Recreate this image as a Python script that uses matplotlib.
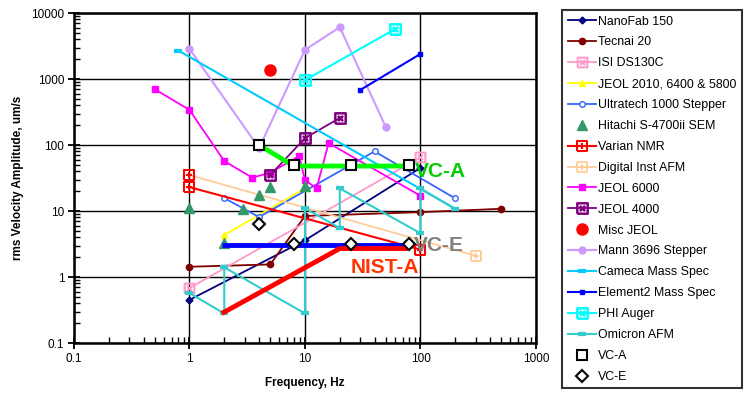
"""
Vibration criteria chart: rms velocity amplitude vs frequency for lab tools
"""

import matplotlib
matplotlib.use("Agg")
import matplotlib.pyplot as plt
from matplotlib.path import Path
from matplotlib.ticker import LogLocator, NullFormatter, FixedLocator, FixedFormatter

plt.rcParams['font.family'] = ['Liberation Sans', 'DejaVu Sans']

# ---- data ----
nanofab_x = [1, 10, 100]
nanofab_y = [0.45, 3.6, 45]
tecnai_x = [1, 5, 10, 100, 500]
tecnai_y = [1.43, 1.55, 8.4, 9.6, 10.8]
isi_x = [1, 100]
isi_y = [0.68, 65]
jeol2010_x = [2, 10]
jeol2010_y = [4.3, 22]
ultratech_x = [2, 4, 40, 200]
ultratech_y = [15.7, 8.1, 80, 15.5]
hitachi_x = [1, 2, 2.9, 4, 5, 10]
hitachi_y = [11, 3.3, 10.7, 17.5, 23, 24]
varian_x = [1, 100]
varian_y = [23, 2.6]
varian_extra_x = [1]
varian_extra_y = [35]
dafm_x = [1, 300]
dafm_y = [35, 2.1]
jeol6000_x = [0.5, 1, 2, 3.5, 5, 8.9, 10, 12.6, 16, 100]
jeol6000_y = [700, 340, 57, 32, 38, 68, 29.5, 22, 107, 17]
jeol4000_x = [5, 10, 20]
jeol4000_y = [35, 127, 257]
miscjeol_x = [5]
miscjeol_y = [1370]
mann_x = [1, 4, 10, 20, 50]
mann_y = [2860, 90, 2760, 6100, 188]
cameca_x = [0.8, 200]
cameca_y = [2700, 10.8]
element2_x = [30, 100]
element2_y = [680, 2400]
phi_x = [10, 60]
phi_y = [960, 5700]
omicron_x = [1, 2, 2, 10, 10, 20, 20, 100, 100, 200]
omicron_y = [0.57, 0.28, 1.4, 0.28, 11, 5.5, 22, 4.6, 22, 10.7]
vca_x = [4, 8, 25, 80]
vca_y = [100, 50, 50, 50]
vce_x = [4, 8, 25, 80]
vce_y = [6.3, 3.15, 3.15, 3.15]

# criterion curves (thick lines)
vca_line_x = [4, 8, 78]
vca_line_y = [100, 48, 48]
vce_line_x = [1.9, 78]
vce_line_y = [3.1, 3.1]
nista_x = [1.9, 20, 78]
nista_y = [0.28, 2.7, 2.7]

x_ticks = [0.1, 1, 10, 100, 1000]
x_labels = ['0.1', '1', '10', '100', '1000']
y_ticks = [0.1, 1, 10, 100, 1000, 10000]
y_labels = ['0.1', '1', '10', '100', '1000', '10000']

# Excel style markers: square with an x / plus inside (stroked only)
MV, LT = Path.MOVETO, Path.LINETO
sq = [(-1, -1), (1, -1), (1, 1), (-1, 1), (-1, -1)]
sq_codes = [MV, LT, LT, LT, LT]
BOX_X = Path(sq + [(-0.5, -0.5), (0.5, 0.5), (-0.5, 0.5), (0.5, -0.5)],
             sq_codes + [MV, LT, MV, LT])
BOX_P = Path(sq + [(0, -0.6), (0, 0.6), (-0.6, 0), (0.6, 0)],
             sq_codes + [MV, LT, MV, LT])

fig = plt.figure(figsize=(7.46, 3.95), dpi=100)
ax = fig.add_axes([74 / 746, 1 - 343 / 395, 462 / 746, 330 / 395])

ax.plot(nanofab_x, nanofab_y, color='#000080', lw=1.3, marker='D', ms=3.5, label='NanoFab 150', zorder=3)
ax.plot(tecnai_x, tecnai_y, color='#800000', lw=1.3, marker='o', ms=4.5, label='Tecnai 20', zorder=3)
ax.plot(isi_x, isi_y, color='#FF99CC', lw=1.3, marker=BOX_X, ms=7, mfc='none', mew=1.5,
        label='ISI DS130C', zorder=3)
ax.plot(jeol2010_x, jeol2010_y, color='#FFFF00', lw=1.3, marker='^', ms=5, label='JEOL 2010, 6400 & 5800', zorder=3)
ax.plot(ultratech_x, ultratech_y, color='#3366FF', lw=1.3, marker='o', ms=4, mfc='white', mew=1,
        label='Ultratech 1000 Stepper', zorder=3)
ax.plot(hitachi_x, hitachi_y, color='#339966', lw=0, marker='^', ms=7.5, label='Hitachi S-4700ii SEM', zorder=4)
ax.plot(varian_x, varian_y, color='#FF0000', lw=1.5, marker=BOX_P, ms=7, mfc='none', mew=1.5,
        label='Varian NMR', zorder=3)
ax.plot(varian_extra_x, varian_extra_y, color='#FF0000', lw=0, marker=BOX_P, ms=7, mfc='none', mew=1.5, zorder=4)
ax.plot(dafm_x, dafm_y, color='#FFCC99', lw=1.3, marker=BOX_P, ms=7, mfc='none', mew=1.3,
        label='Digital Inst AFM', zorder=3)
ax.plot(jeol6000_x, jeol6000_y, color='#FF00FF', lw=1.3, marker='s', ms=5, label='JEOL 6000', zorder=3)
ax.plot(jeol4000_x, jeol4000_y, color='#800080', lw=1.3, marker=BOX_X, ms=7.5, mfc='none', mew=1.8,
        label='JEOL 4000', zorder=3)
ax.plot(miscjeol_x, miscjeol_y, color='#FF0000', lw=0, marker='o', ms=8, label='Misc JEOL', zorder=3)
ax.plot(mann_x, mann_y, color='#CC99FF', lw=1.5, marker='o', ms=5, label='Mann 3696 Stepper', zorder=3)
ax.plot(cameca_x, cameca_y, color='#00CCFF', lw=1.5, marker='_', ms=6, mew=3, label='Cameca Mass Spec', zorder=3)
ax.plot(element2_x, element2_y, color='#0000FF', lw=1.5, marker='s', ms=2.5, label='Element2 Mass Spec', zorder=3)
ax.plot(phi_x, phi_y, color='#00FFFF', lw=1.5, marker=BOX_X, ms=7.5, mfc='none', mew=1.8,
        label='PHI Auger', zorder=3)
ax.plot(omicron_x, omicron_y, color='#33CCCC', lw=1.5, marker='_', ms=6, mew=3, label='Omicron AFM', zorder=3)
ax.plot(vca_x, vca_y, color='black', lw=0, marker='s', ms=6.5, mfc='white', mew=1.5, label='VC-A', zorder=6)
ax.plot(vce_x, vce_y, color='black', lw=0, marker='D', ms=6.5, mfc='white', mew=1.5, label='VC-E', zorder=6)

# criterion lines
ax.plot(vca_line_x, vca_line_y, color='#00FF00', lw=3.5, zorder=5, solid_capstyle='butt')
ax.plot(vce_line_x, vce_line_y, color='#0000FF', lw=3.5, zorder=5, solid_capstyle='butt')
ax.plot(nista_x, nista_y, color='#FF0000', lw=3.5, zorder=5, solid_capstyle='butt')

ax.text(90, 39, 'VC-A', color='#00CC00', fontsize=15, fontweight='bold', va='center', ha='left', zorder=7)
ax.text(87, 2.95, 'VC-E', color='#808080', fontsize=15, fontweight='bold', va='center', ha='left', zorder=7)
ax.text(25, 1.37, 'NIST-A', color='#FF3300', fontsize=15, fontweight='bold', va='center', ha='left', zorder=7)

ax.set_xscale('log')
ax.set_yscale('log')
ax.set_xlim(0.1, 1000)
ax.set_ylim(0.1, 10000)

ax.xaxis.set_major_locator(FixedLocator(x_ticks))
ax.xaxis.set_major_formatter(FixedFormatter(x_labels))
ax.yaxis.set_major_locator(FixedLocator(y_ticks))
ax.yaxis.set_major_formatter(FixedFormatter(y_labels))
ax.xaxis.set_minor_locator(LogLocator(base=10, subs=range(2, 10)))
ax.yaxis.set_minor_locator(LogLocator(base=10, subs=range(2, 10)))
ax.xaxis.set_minor_formatter(NullFormatter())
ax.yaxis.set_minor_formatter(NullFormatter())

ax.tick_params(which='major', direction='inout', length=8, width=1.3, labelsize=8.5, pad=3)
ax.tick_params(which='minor', direction='in', length=4, width=1)
ax.grid(which='major', color='black', lw=1)
ax.set_axisbelow(True)
for s in ax.spines.values():
    s.set_linewidth(1.8)

ax.set_xlabel('Frequency, Hz', fontsize=8.5, fontweight='bold', labelpad=9)
ax.set_ylabel('rms Velocity Amplitude, um/s', fontsize=8.5, fontweight='bold', labelpad=5)

leg = fig.legend(loc='upper left', bbox_to_anchor=(562 / 746, 1 - 10 / 395), fontsize=8.9,
                 frameon=True, fancybox=False, edgecolor='black', labelspacing=0.72,
                 handlelength=2.3, handletextpad=0.15, borderpad=0.45, borderaxespad=0)
leg.get_frame().set_linewidth(1.5)

plt.savefig('out.png', dpi=100)
